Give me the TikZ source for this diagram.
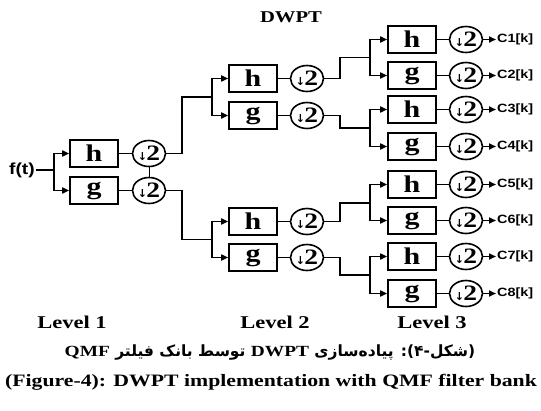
\documentclass[tikz,border=0pt]{standalone}
\usepackage{fontspec}
\setmainfont{Liberation Serif}[FakeStretch=1.25]
\newfontfamily\ab{Liberation Sans}[FakeStretch=1.2]
\newfontfamily\djv{DejaVu Sans}
\newfontfamily\arabicfont[Script=Arabic]{DejaVu Sans}
\TeXXeTstate=1
\usetikzlibrary{shapes.geometric,arrows.meta}
\tikzset{
  wire/.style={line width=1.6pt},
  arr/.style={line width=1.6pt,-{Stealth[length=7pt,width=6pt,inset=0pt]}},
  filt/.style={draw,line width=1.6pt,minimum width=48pt,minimum height=27pt,inner sep=0pt,
    font=\fontsize{24}{24}\selectfont\bfseries},
  dsamp/.style={draw,ellipse,line width=1.6pt,minimum width=33pt,minimum height=26pt,inner sep=0pt},
  outlbl/.style={anchor=west,inner sep=1pt,font=\ab\bfseries\fontsize{12}{12}\selectfont},
  lvl/.style={font=\fontsize{18}{18}\selectfont\bfseries},
}
\newcommand{\dtwo}{\makebox[20pt][c]{{\djv\bfseries\fontsize{11}{11}\selectfont\raisebox{0.5pt}{↓}}\kern-0.5pt{\bfseries\fontsize{22}{22}\selectfont 2}}}
\begin{document}
\begin{tikzpicture}[x=1pt,y=-1pt]
\useasboundingbox (0,0) rectangle (541,410);
% title
\node[font=\fontsize{16.5}{16.5}\selectfont\bfseries] (title) at (291,17) {DWPT};
% input
\node[font=\ab\bfseries\fontsize{16}{16}\selectfont,inner sep=1pt] (f) at (22,170) {f(t)};
\coordinate (j1) at (54,170);
% level 1
\node[filt] (h1) at (94,153.5) {h};
\node[filt] (g1) at (94,190.5) {g};
\node[dsamp] (c1h) at (149,153.5) {\dtwo};
\node[dsamp] (c1g) at (149,190.5) {\dtwo};
% level 2
\foreach \n/\y/\t in {h2a/78.5/h, g2a/115.5/g, h2b/221.5/h, g2b/257.5/g}{
  \node[filt] (\n) at (253,\y) {\t};
  \node[dsamp] (c\n) at (307,\y) {\dtwo};
}
% level 3
\foreach \i/\y/\t in {1/39.5/h, 2/75.5/g, 3/109.5/h, 4/146.5/g, 5/184.5/h, 6/220.5/g, 7/256.5/h, 8/293.5/g}{
  \node[filt] (b3\i) at (412,\y) {\t};
  \node[dsamp] (c3\i) at (466,\y) {\dtwo};
  \node[outlbl] (o\i) at (496,\y) {C\i[k]};
  \draw[wire] (b3\i) -- (c3\i);
  \draw[arr] (c3\i.east) -- (o\i.west);
}
% junction coordinates
\coordinate (k1a) at (182,97);   \coordinate (j2a) at (212,97);
\coordinate (k1b) at (182,239.5); \coordinate (j2b) at (212,239.5);
\coordinate (k2a) at (340,57.5); \coordinate (j3a) at (370,57.5);
\coordinate (k2b) at (340,128);  \coordinate (j3b) at (370,128);
\coordinate (k2c) at (340,203);  \coordinate (j3c) at (370,203);
\coordinate (k2d) at (340,275);  \coordinate (j3d) at (370,275);
% level 1 wiring
\draw[wire] (f.east) -- (j1);
\draw[arr] (j1) |- (h1.west);
\draw[arr] (j1) |- (g1.west);
\draw[wire] (h1) -- (c1h);
\draw[wire] (g1) -- (c1g);
\draw[line width=1pt] (c1h) -- (c1g);
% level 1 -> 2
\draw[wire] (c1h.east) -| (k1a) -- (j2a);
\draw[wire] (c1g.east) -| (k1b) -- (j2b);
\draw[arr] (j2a) |- (h2a.west);
\draw[arr] (j2a) |- (g2a.west);
\draw[arr] (j2b) |- (h2b.west);
\draw[arr] (j2b) |- (g2b.west);
\foreach \n in {h2a,g2a,h2b,g2b}{ \draw[wire] (\n) -- (c\n); }
% level 2 -> 3
\draw[wire] (ch2a.east) -| (k2a) -- (j3a);
\draw[wire] (cg2a.east) -| (k2b) -- (j3b);
\draw[wire] (ch2b.east) -| (k2c) -- (j3c);
\draw[wire] (cg2b.east) -| (k2d) -- (j3d);
\draw[arr] (j3a) |- (b31.west);
\draw[arr] (j3a) |- (b32.west);
\draw[arr] (j3b) |- (b33.west);
\draw[arr] (j3b) |- (b34.west);
\draw[arr] (j3c) |- (b35.west);
\draw[arr] (j3c) |- (b36.west);
\draw[arr] (j3d) |- (b37.west);
\draw[arr] (j3d) |- (b38.west);
% level labels
\node[lvl] (l1) at (72,322) {Level 1};
\node[lvl] (l2) at (275,322) {Level 2};
\node[lvl] (l3) at (432,322) {Level 3};
% captions
\node[font=\fontsize{15.5}{15.5}\selectfont] (fa) at (270,352) {\arabicfont\bfseries\beginR(شکل-۴): پیاده‌سازی {\rmfamily\bfseries DWPT} توسط بانک فیلتر {\rmfamily\bfseries QMF}\endR};
\node[font=\fontsize{17.4}{17.4}\selectfont\bfseries] (fe) at (271,382) {(Figure-4): DWPT implementation with QMF filter bank};
\end{tikzpicture}
\end{document}
